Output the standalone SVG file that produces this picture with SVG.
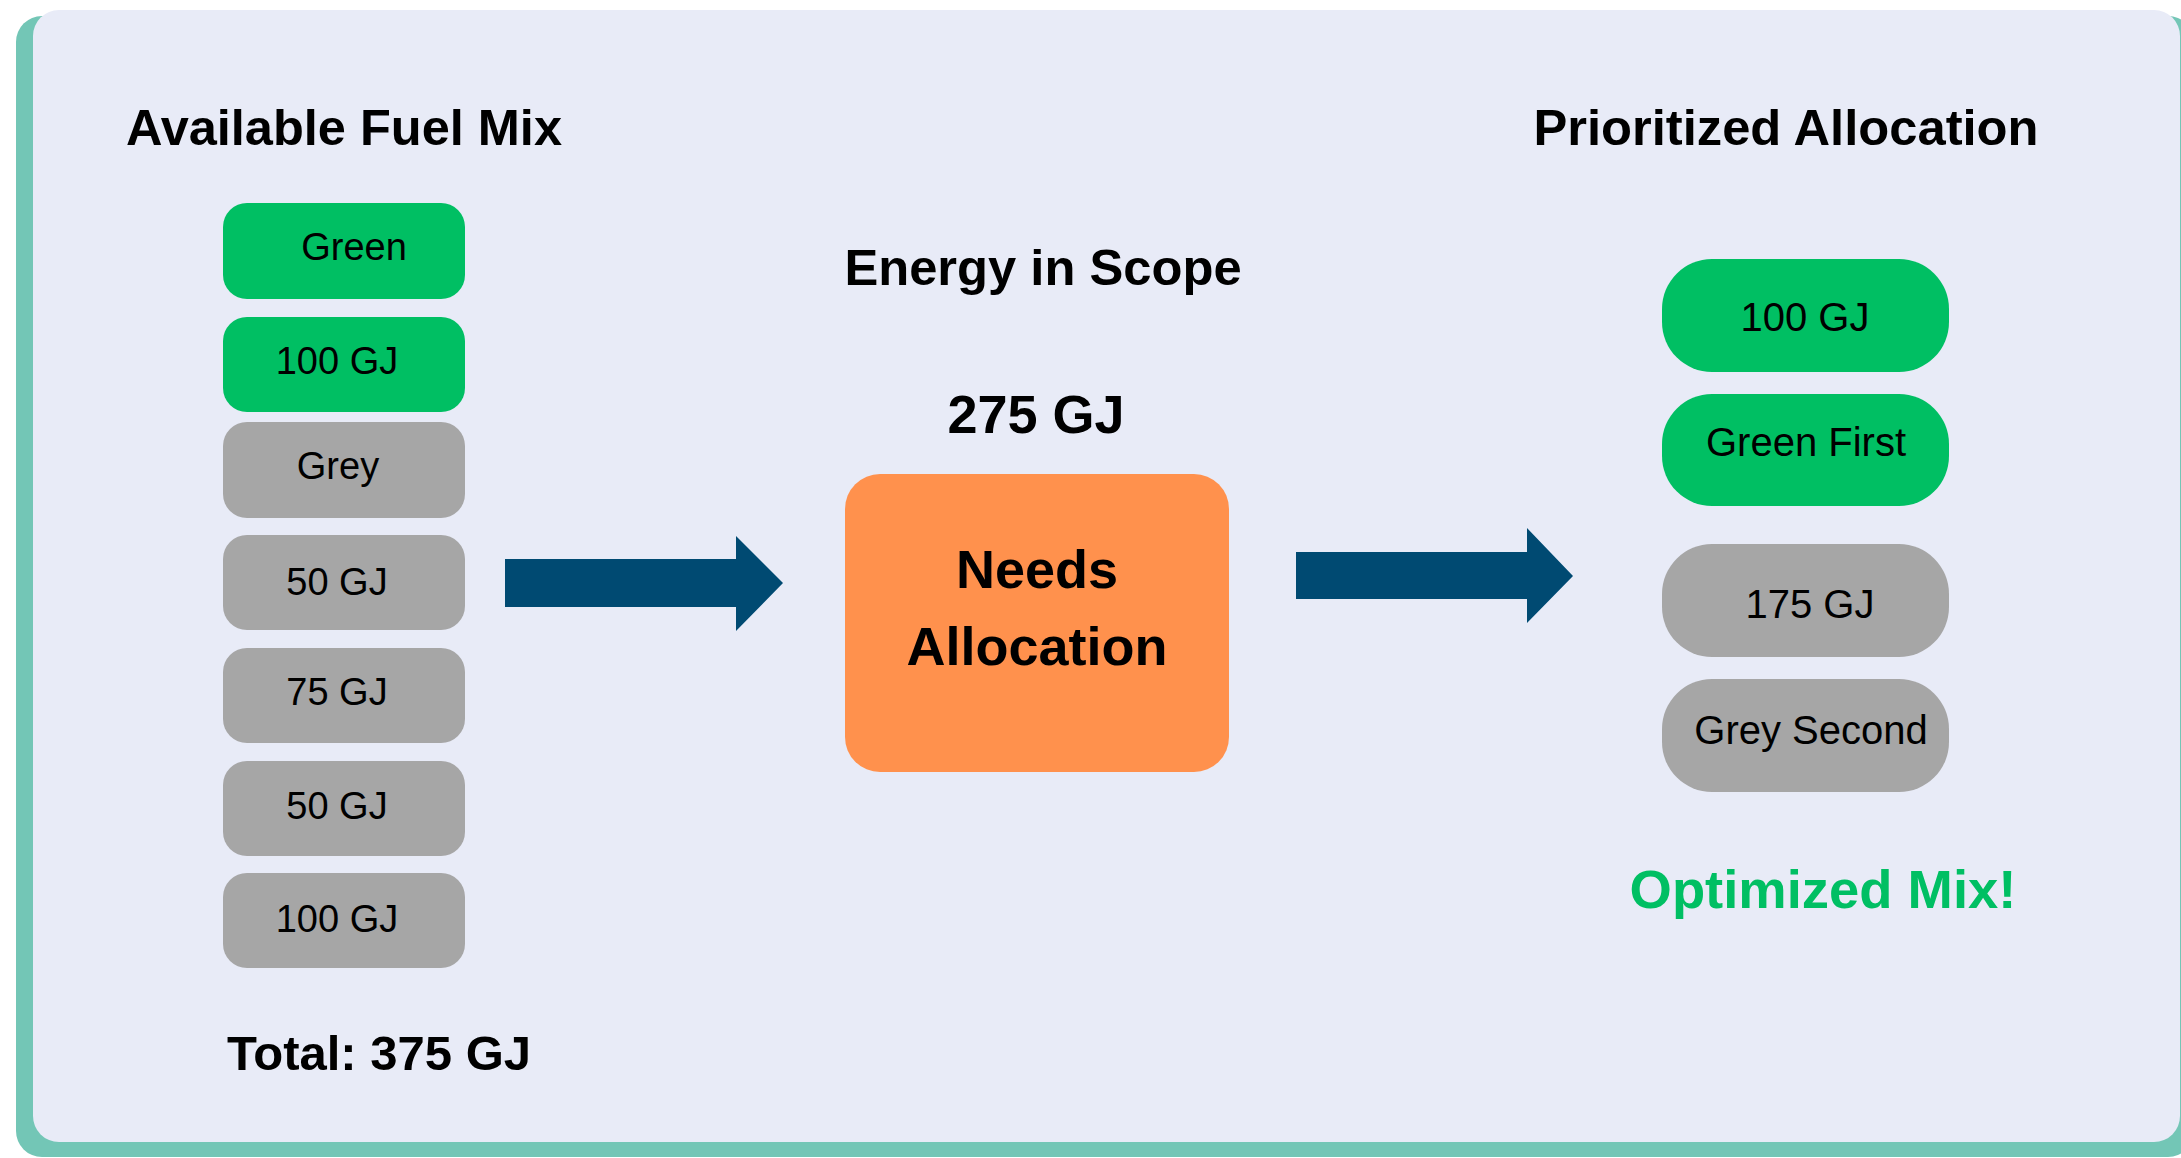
<svg xmlns="http://www.w3.org/2000/svg" width="2181" height="1158" viewBox="0 0 2181 1158">
  <style>
    .bold { font-family: "Liberation Sans", Arial, sans-serif; font-weight: bold; fill: #000; text-anchor: middle; }
    .lbl { font-family: "Liberation Sans", Arial, sans-serif; fill: #000; text-anchor: middle; }
    .green { fill: #00BF63; }
    .grey { fill: #A6A6A6; }
    .arrow { fill: #004A72; }
  </style>
  <rect x="16" y="16" width="2178" height="1141" rx="26" fill="#73C6B6"/>
  <rect x="33" y="10" width="2147" height="1132" rx="26" fill="#E8EBF7"/>

  <text class="bold" x="344" y="145" font-size="50.5">Available Fuel Mix</text>
  <text class="bold" x="1786" y="145" font-size="50.7">Prioritized Allocation</text>
  <text class="bold" x="1043" y="285" font-size="50.7">Energy in Scope</text>
  <text class="bold" x="1036" y="433" font-size="54">275 GJ</text>
  <text class="bold" x="379" y="1070" font-size="49">Total: 375 GJ</text>
  <text class="bold" x="1823" y="908" font-size="54.4" style="fill:#00BF63">Optimized Mix!</text>

  <g id="fuel-green">
    <rect class="green" x="223" y="203" width="242" height="96" rx="24"/>
    <text class="lbl" x="354" y="260" font-size="38">Green</text>
  </g>
  <g id="fuel-green-100">
    <rect class="green" x="223" y="317" width="242" height="95" rx="24"/>
    <text class="lbl" x="337" y="374" font-size="38">100 GJ</text>
  </g>
  <g id="fuel-grey">
    <rect class="grey" x="223" y="422" width="242" height="96" rx="24"/>
    <text class="lbl" x="338" y="479" font-size="38">Grey</text>
  </g>
  <g id="fuel-grey-50a">
    <rect class="grey" x="223" y="535" width="242" height="95" rx="24"/>
    <text class="lbl" x="337" y="595" font-size="38">50 GJ</text>
  </g>
  <g id="fuel-grey-75">
    <rect class="grey" x="223" y="648" width="242" height="95" rx="24"/>
    <text class="lbl" x="337" y="705" font-size="38">75 GJ</text>
  </g>
  <g id="fuel-grey-50b">
    <rect class="grey" x="223" y="761" width="242" height="95" rx="24"/>
    <text class="lbl" x="337" y="819" font-size="38">50 GJ</text>
  </g>
  <g id="fuel-grey-100">
    <rect class="grey" x="223" y="873" width="242" height="95" rx="24"/>
    <text class="lbl" x="337" y="932" font-size="38">100 GJ</text>
  </g>

  <g id="needs-allocation">
    <rect x="845" y="474" width="384" height="298" rx="35" fill="#FF914D"/>
    <text class="bold" x="1037" y="588" font-size="54">Needs</text>
    <text class="bold" x="1037" y="665" font-size="54">Allocation</text>
  </g>

  <g id="alloc-green-100">
    <rect class="green" x="1662" y="259" width="287" height="113" rx="50"/>
    <text class="lbl" x="1805" y="331" font-size="40">100 GJ</text>
  </g>
  <g id="alloc-green-first">
    <rect class="green" x="1662" y="394" width="287" height="112" rx="50"/>
    <text class="lbl" x="1806" y="456" font-size="40">Green First</text>
  </g>
  <g id="alloc-grey-175">
    <rect class="grey" x="1662" y="544" width="287" height="113" rx="50"/>
    <text class="lbl" x="1810" y="618" font-size="40">175 GJ</text>
  </g>
  <g id="alloc-grey-second">
    <rect class="grey" x="1662" y="679" width="287" height="113" rx="50"/>
    <text class="lbl" x="1811" y="744" font-size="40">Grey Second</text>
  </g>

  <g id="connectors">
    <polygon class="arrow" points="505,559 736,559 736,536 783,583 736,631 736,607 505,607"/>
    <polygon class="arrow" points="1296,552 1527,552 1527,528 1573,576 1527,623 1527,599 1296,599"/>
  </g>
</svg>
